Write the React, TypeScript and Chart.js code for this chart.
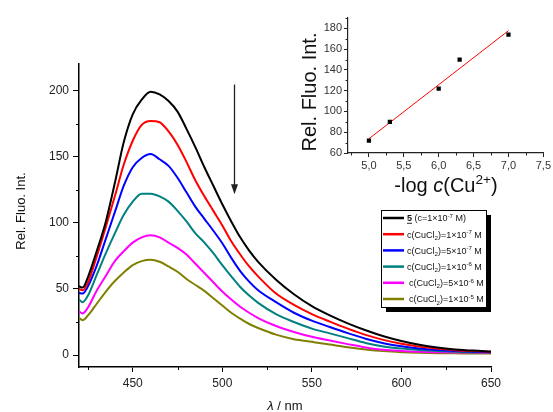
import React, { useEffect, useRef } from 'react';
import { Chart, registerables } from 'chart.js';
Chart.register(...registerables);

const FONT = '"Liberation Sans", Arial, Helvetica, sans-serif';

// ---------- main spectra data ----------
const wavelengths = [420, 422, 425, 430, 435, 440, 445, 450, 455, 460, 465, 470, 475, 480, 485, 490, 495, 500, 505, 510, 515, 520, 530, 540, 550, 560, 570, 580, 590, 600, 610, 620, 630, 640, 650];
const fluoFree = [52, 51, 59, 79, 101, 130, 161, 182, 193, 199, 197, 192, 184, 171, 157, 142, 128, 114, 101, 89, 79, 70.5, 57, 46, 37, 30, 24, 18.8, 14.3, 10.7, 7.8, 5.7, 4.3, 3.4, 2.8];
const fluoCu1e7 = [50, 49, 55, 75, 97, 120, 144, 162, 174, 177, 176, 169, 159, 146, 132, 120, 109, 98, 86, 76, 67, 59.5, 46.5, 38, 31, 25.3, 20, 15.3, 11.5, 8.6, 6.4, 4.9, 3.7, 3, 2.5];
const fluoCu5e7 = [47, 46.5, 52, 68, 88, 108, 128, 142, 149, 152, 148, 143, 134, 123, 112, 103, 94, 84.5, 73.5, 63.5, 55.5, 49, 40, 32, 26, 21.2, 16.6, 12.4, 9, 6.7, 5, 3.9, 3.1, 2.6, 2.2];
const fluoCu1e6 = [42, 40, 45, 61, 77, 92, 106, 116, 122, 122, 120, 116, 109, 101, 92, 85, 77, 68, 59.5, 51.5, 45, 39.5, 31, 25, 20, 16.4, 12.8, 9.2, 6.5, 4.9, 3.8, 3, 2.5, 2.2, 2];
const fluoCu5e6 = [33, 31.5, 36, 49, 60, 71, 78.5, 85, 89, 90.6, 89, 85, 81, 76, 69, 62, 55, 48, 42, 36.5, 32, 28, 22, 17.5, 13.8, 11, 8.3, 5.8, 4, 3.1, 2.5, 2.2, 2, 1.9, 1.8];
const fluoCu1e5 = [28, 26.4, 30, 39, 48, 56, 62.5, 68, 71, 72, 70.5, 67, 63, 57.5, 53, 48.5, 43, 37.5, 32, 27.5, 23.5, 20.5, 15.5, 12, 10, 8, 6, 4.3, 3, 2.2, 1.7, 1.4, 1.3, 1.2, 1.2];
const seriesValues = [fluoFree, fluoCu1e7, fluoCu5e7, fluoCu1e6, fluoCu5e6, fluoCu1e5];
const seriesColors = ['#000000', '#ff0000', '#0000ff', '#008080', '#ff00ff', '#808000'];

type Seg = { t: string; sub?: boolean; sup?: boolean; bold?: boolean; italic?: boolean; underline?: boolean };
const legendLabels: Seg[][] = [
  [{ t: '5', bold: true, underline: true }, { t: ' (c=1×10' }, { t: '-7', sup: true }, { t: ' M)' }],
  [{ t: 'c(CuCl' }, { t: '2', sub: true }, { t: ')=1×10' }, { t: '-7', sup: true }, { t: ' M' }],
  [{ t: 'c(CuCl' }, { t: '2', sub: true }, { t: ')=5×10' }, { t: '-7', sup: true }, { t: ' M' }],
  [{ t: 'c(CuCl' }, { t: '2', sub: true }, { t: ')=1×10' }, { t: '-6', sup: true }, { t: ' M' }],
  [{ t: 'c(CuCl' }, { t: '2', sub: true }, { t: ')=5×10' }, { t: '-6', sup: true }, { t: ' M' }],
  [{ t: 'c(CuCl' }, { t: '2', sub: true }, { t: ')=1×10' }, { t: '-5', sup: true }, { t: ' M' }],
];

const xMajorTicks = [450, 500, 550, 600, 650];
const xMinorTicks = [425, 475, 525, 575, 625];
const yMajorTicks = [0, 50, 100, 150, 200];
const yMinorTicks = [25, 75, 125, 175];
const mainYTitle = 'Rel. Fluo. Int.';
const mainXTitle: Seg[] = [{ t: 'λ', italic: true }, { t: ' / nm' }];
// arrow annotation (data coords)
const arrowX = 506.4;
const arrowFromY = 204.5;
const arrowToY = 121.5;

// ---------- inset data ----------
const logC = [5.0, 5.3, 6.0, 6.3, 7.0];
const insetIntensity = [72, 90, 122, 150, 174];
const fitX = [5.0, 7.0];
const fitY = [73.7, 177.8];
const insetXTicks = [5.0, 5.5, 6.0, 6.5, 7.0, 7.5];
const insetXMinor = [4.75, 5.25, 5.75, 6.25, 6.75, 7.25];
const insetYTicks = [60, 80, 100, 120, 140, 160, 180];
const insetYMinor = [70, 90, 110, 130, 150, 170, 190];
const insetYTitle = 'Rel. Fluo. Int.';
const insetXTitle: Seg[] = [{ t: '-log ' }, { t: 'c', italic: true }, { t: '(Cu' }, { t: '2+', sup: true }, { t: ')' }];

function segFont(s: Seg, size: number) {
  const sz = s.sub || s.sup ? size * 0.68 : size;
  return `${s.italic ? 'italic ' : ''}${s.bold ? 'bold ' : ''}${sz}px ${FONT}`;
}
function richWidth(ctx: CanvasRenderingContext2D, segs: Seg[], size: number) {
  let w = 0;
  segs.forEach((s) => {
    ctx.font = segFont(s, size);
    w += ctx.measureText(s.t).width;
  });
  return w;
}
function drawRich(ctx: CanvasRenderingContext2D, segs: Seg[], x: number, y: number, size: number, align: 'left' | 'center' = 'left') {
  let cx = align === 'center' ? x - richWidth(ctx, segs, size) / 2 : x;
  ctx.textAlign = 'left';
  ctx.textBaseline = 'alphabetic';
  segs.forEach((s) => {
    ctx.font = segFont(s, size);
    const dy = s.sup ? -size * 0.4 : s.sub ? size * 0.25 : 0;
    ctx.fillText(s.t, cx, y + dy);
    const w = ctx.measureText(s.t).width;
    if (s.underline) ctx.fillRect(cx, y + 1.5, w, 0.9);
    cx += w;
  });
}

const mainDecor = {
  id: 'mainDecor',
  afterDraw(chart: any) {
    const { ctx, chartArea } = chart;
    const x = chart.scales.x;
    const y = chart.scales.y;
    ctx.save();
    ctx.strokeStyle = '#000';
    ctx.lineWidth = 1;
    xMinorTicks.forEach((v) => {
      const px = Math.round(x.getPixelForValue(v)) + 0.5;
      ctx.beginPath();
      ctx.moveTo(px, chartArea.bottom);
      ctx.lineTo(px, chartArea.bottom + 3);
      ctx.stroke();
    });
    yMinorTicks.forEach((v) => {
      const py = Math.round(y.getPixelForValue(v)) + 0.5;
      ctx.beginPath();
      ctx.moveTo(chartArea.left, py);
      ctx.lineTo(chartArea.left - 3, py);
      ctx.stroke();
    });

    // arrow
    const ax = Math.round(x.getPixelForValue(arrowX)) + 0.5;
    const ay1 = y.getPixelForValue(arrowFromY);
    const ay2 = y.getPixelForValue(arrowToY);
    ctx.strokeStyle = '#222';
    ctx.lineWidth = 1.3;
    ctx.beginPath();
    ctx.moveTo(ax, ay1);
    ctx.lineTo(ax, ay2 - 8);
    ctx.stroke();
    ctx.fillStyle = '#222';
    ctx.beginPath();
    ctx.moveTo(ax, ay2);
    ctx.lineTo(ax - 3.5, ay2 - 10);
    ctx.lineTo(ax + 3.5, ay2 - 10);
    ctx.closePath();
    ctx.fill();

    // titles
    ctx.fillStyle = '#111';
    ctx.save();
    ctx.translate(21, 211);
    ctx.rotate(-Math.PI / 2);
    ctx.font = `13px ${FONT}`;
    ctx.textAlign = 'center';
    ctx.textBaseline = 'middle';
    ctx.fillText(mainYTitle, 0, 0);
    ctx.restore();
    drawRich(ctx, mainXTitle, 285, 410, 13, 'center');

    // legend box with shadow
    const lx = 381, ly = 210, lw = 105, lh = 97;
    ctx.fillStyle = '#000';
    ctx.fillRect(lx + 5, ly + 5, lw, lh);
    ctx.fillStyle = '#fff';
    ctx.fillRect(lx, ly, lw, lh);
    ctx.strokeStyle = '#000';
    ctx.lineWidth = 1;
    ctx.strokeRect(lx + 0.5, ly + 0.5, lw, lh);
    chart.data.datasets.forEach((ds: any, i: number) => {
      const ry = 218 + i * 16.2;
      ctx.strokeStyle = ds.borderColor;
      ctx.lineWidth = 2.5;
      ctx.beginPath();
      ctx.moveTo(383, ry);
      ctx.lineTo(404, ry);
      ctx.stroke();
      ctx.fillStyle = '#111';
      drawRich(ctx, legendLabels[i], i >= 4 ? 409 : 407, ry + 3.3, 9);
    });
    ctx.restore();
  },
};

const insetDecor = {
  id: 'insetDecor',
  afterDraw(chart: any) {
    const { ctx, chartArea } = chart;
    const x = chart.scales.x;
    const y = chart.scales.y;
    ctx.save();
    ctx.strokeStyle = '#222';
    ctx.lineWidth = 1;
    insetXMinor.forEach((v) => {
      const px = x.getPixelForValue(v);
      if (px < chartArea.left || px > chartArea.right) return;
      const p = Math.round(px) + 0.5;
      ctx.beginPath();
      ctx.moveTo(p, chartArea.bottom);
      ctx.lineTo(p, chartArea.bottom + 2.5);
      ctx.stroke();
    });
    insetYMinor.forEach((v) => {
      const py = y.getPixelForValue(v);
      if (py < chartArea.top - 0.5 || py > chartArea.bottom) return;
      const p = Math.round(py) + 0.5;
      ctx.beginPath();
      ctx.moveTo(chartArea.left, p);
      ctx.lineTo(chartArea.left - 2.5, p);
      ctx.stroke();
    });
    ctx.fillStyle = '#111';
    ctx.save();
    ctx.translate(30, 92);
    ctx.rotate(-Math.PI / 2);
    ctx.font = `20px ${FONT}`;
    ctx.textAlign = 'center';
    ctx.textBaseline = 'middle';
    ctx.fillText(insetYTitle, 0, 0);
    ctx.restore();
    drawRich(ctx, insetXTitle, 166, 192, 20, 'center');
    ctx.restore();
  },
};

export default function App() {
  const mainRef = useRef<HTMLCanvasElement>(null);
  const insetRef = useRef<HTMLCanvasElement>(null);

  useEffect(() => {
    Chart.defaults.font.family = FONT;
    const datasets = seriesValues.map((vals, i) => ({
      label: 'series' + i,
      data: wavelengths.map((w, j) => ({ x: w, y: vals[j] })),
      borderColor: seriesColors[i],
      backgroundColor: seriesColors[i],
      borderWidth: 2,
      pointRadius: 0,
      cubicInterpolationMode: 'monotone',
      fill: false,
    }));
    const main = new Chart(mainRef.current!, {
      type: 'line',
      data: { datasets },
      options: {
        responsive: false,
        animation: false,
        layout: { padding: { left: 0, top: 64, right: 62, bottom: 0 } },
        plugins: { legend: { display: false }, tooltip: { enabled: false } },
        scales: {
          x: {
            type: 'linear',
            min: 420,
            max: 650,
            afterBuildTicks: (s: any) => {
              s.ticks = xMajorTicks.map((v) => ({ value: v }));
            },
            afterFit: (s: any) => {
              s.height = 45;
            },
            border: { display: true, color: '#000', width: 1.5 },
            grid: { drawOnChartArea: false, drawTicks: true, tickLength: 5, color: '#000', lineWidth: 1 },
            ticks: { padding: 4, color: '#222', maxRotation: 0, font: { size: 12, family: FONT }, callback: (v: any) => String(v) },
          },
          y: {
            type: 'linear',
            min: -9,
            max: 220,
            afterBuildTicks: (s: any) => {
              s.ticks = yMajorTicks.map((v) => ({ value: v }));
            },
            afterFit: (s: any) => {
              s.width = 79;
            },
            border: { display: true, color: '#000', width: 1.5 },
            grid: { drawOnChartArea: false, drawTicks: true, tickLength: 6, color: '#000', lineWidth: 1 },
            ticks: { padding: 4, color: '#222', font: { size: 12, family: FONT }, callback: (v: any) => String(v) },
          },
        },
      },
      plugins: [mainDecor],
    } as any);

    const inset = new Chart(insetRef.current!, {
      type: 'scatter',
      data: {
        datasets: [
          {
            label: 'points',
            data: logC.map((v, i) => ({ x: v, y: insetIntensity[i] })),
            pointStyle: 'rect',
            pointRadius: 3,
            backgroundColor: '#000',
            borderColor: '#000',
            borderWidth: 0,
            showLine: false,
          },
          {
            label: 'fit',
            data: fitX.map((v, i) => ({ x: v, y: fitY[i] })),
            showLine: true,
            borderColor: '#ff0000',
            borderWidth: 1,
            pointRadius: 0,
          },
        ],
      },
      options: {
        responsive: false,
        animation: false,
        layout: { padding: { left: 0, top: 18, right: 9, bottom: 0 } },
        plugins: { legend: { display: false }, tooltip: { enabled: false } },
        scales: {
          x: {
            type: 'linear',
            min: 4.7,
            max: 7.5,
            afterBuildTicks: (s: any) => {
              s.ticks = insetXTicks.map((v) => ({ value: v }));
            },
            afterFit: (s: any) => {
              s.height = 47;
            },
            border: { display: true, color: '#222', width: 1.2 },
            grid: { drawOnChartArea: false, drawTicks: true, tickLength: 4, color: '#222', lineWidth: 1 },
            ticks: { padding: 2, color: '#333', maxRotation: 0, font: { size: 11, family: FONT }, callback: (v: any) => Number(v).toFixed(1).replace('.', ',') },
          },
          y: {
            type: 'linear',
            min: 60,
            max: 190,
            afterBuildTicks: (s: any) => {
              s.ticks = insetYTicks.map((v) => ({ value: v }));
            },
            afterFit: (s: any) => {
              s.width = 68;
            },
            border: { display: true, color: '#222', width: 1.2 },
            grid: { drawOnChartArea: false, drawTicks: true, tickLength: 4, color: '#222', lineWidth: 1 },
            ticks: { padding: 2, color: '#333', font: { size: 11, family: FONT }, callback: (v: any) => String(v) },
          },
        },
      },
      plugins: [insetDecor],
    } as any);

    return () => {
      main.destroy();
      inset.destroy();
    };
  }, []);

  return (
    <div style={{ position: 'fixed', left: 0, top: 0, width: 553, height: 412, background: '#fff' }}>
      <canvas ref={mainRef} width={553} height={412} style={{ position: 'absolute', left: 0, top: 0 }} />
      <canvas ref={insetRef} width={273} height={200} style={{ position: 'absolute', left: 280, top: 0 }} />
    </div>
  );
}
